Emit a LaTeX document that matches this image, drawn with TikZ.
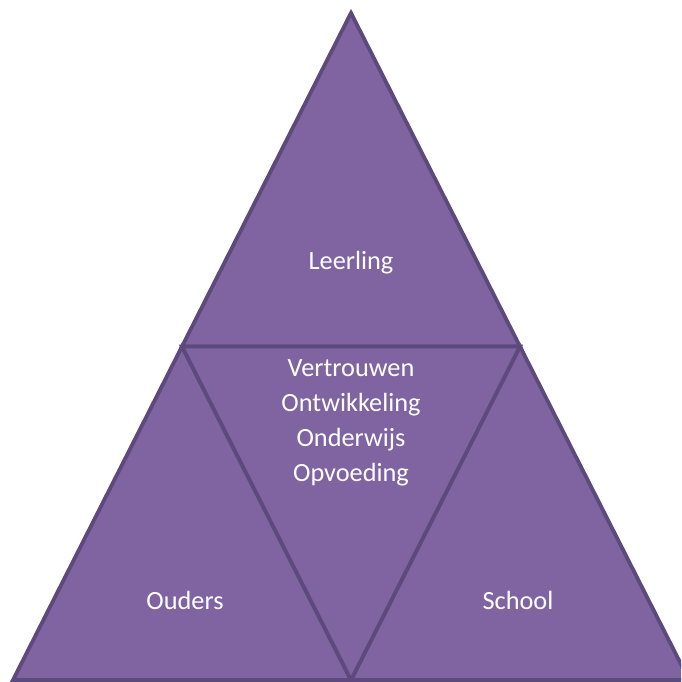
\documentclass[tikz,border=0pt]{standalone}
\usepackage{fontspec}
\setmainfont{Carlito}
\definecolor{fillpurple}{HTML}{8064A2}
\definecolor{edgepurple}{HTML}{5D4A7C}
\tikzset{
  tri/.style={fill=fillpurple, draw=edgepurple, line width=3.8pt, line join=miter},
  lbl/.style={text=white, font=\fontsize{26.3}{35}\selectfont, align=center, inner sep=0pt}
}
\begin{document}
\begin{tikzpicture}[x=1pt,y=1pt]
\useasboundingbox (0,0) rectangle (681,682);
\coordinate (A) at (351,669);
\coordinate (BL) at (13,2);
\coordinate (BR) at (689,2);
\coordinate (ML) at (182,335.5);
\coordinate (MR) at (520,335.5);
\coordinate (MB) at (351,2);
\begin{scope}
\clip (0,0) rectangle (681,682);
\draw[tri] (A) -- (ML) -- (MR) -- cycle;
\draw[tri] (ML) -- (BL) -- (MB) -- cycle;
\draw[tri] (MR) -- (MB) -- (BR) -- cycle;
\draw[tri] (ML) -- (MR) -- (MB) -- cycle;
\end{scope}
\node[lbl] (leerling) at (351,419) {Leerling};
\node[lbl] (ouders) at (185,82) {Ouders};
\node[lbl] (school) at (518,82) {School};
\node[lbl, anchor=base] (mid) at (351,200) {Vertrouwen\\Ontwikkeling\\Onderwijs\\Opvoeding};
\end{tikzpicture}
\end{document}
